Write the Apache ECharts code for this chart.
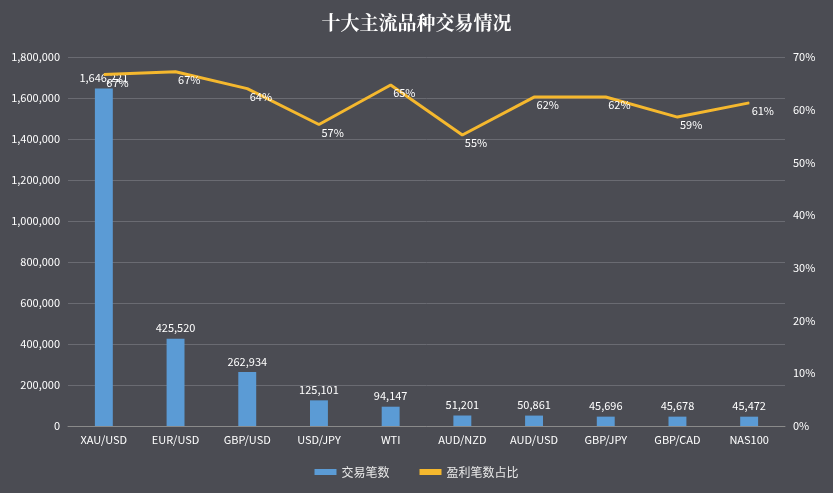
<!DOCTYPE html>
<html><head><meta charset="utf-8">
<script src="https://cdn.jsdelivr.net/npm/echarts@6/dist/echarts.min.js"></script>
<style>html,body{margin:0;padding:0;background:#4b4c53;}#c{width:833px;height:493px;}</style>
</head><body><div id="c"></div>
<script>
const categories = ['XAU/USD','EUR/USD','GBP/USD','USD/JPY','WTI','AUD/NZD','AUD/USD','GBP/JPY','GBP/CAD','NAS100'];
const tradeCounts = [1646221,425520,262934,125101,94147,51201,50861,45696,45678,45472];
const winRates = [66.7,67.2,64.0,57.2,64.7,55.2,62.4,62.4,58.6,61.3];
const leftTicks = {min:0,max:1800000,interval:200000};
const rightTicks = {min:0,max:70,interval:10};

const chart = echarts.init(document.getElementById('c'));
chart.setOption({
  backgroundColor:'#4b4c53',
  textStyle:{fontFamily:'"Noto Sans CJK SC", "Liberation Sans", sans-serif'},
  title:{text:'十大主流品种交易情况',left:'center',top:8,textStyle:{color:'#ffffff',fontSize:19,fontWeight:'bold',fontFamily:'"Noto Serif CJK SC","Noto Sans CJK SC",serif'}},
  grid:{left:68,right:48,top:57,bottom:67},
  legend:{bottom:10,itemGap:30,textStyle:{color:'#e8e8e8',fontSize:12},
    data:[{name:'交易笔数',icon:'rect'},{name:'盈利笔数占比',icon:'rect'}],itemWidth:22,itemHeight:6},
  xAxis:{type:'category',data:categories,axisTick:{show:false},
    axisLine:{lineStyle:{color:'#8a8a8a'}},axisLabel:{color:'#ffffff',fontSize:11,margin:8}},
  yAxis:[
    {type:'value',...leftTicks,axisLine:{show:false},axisTick:{show:false},
     axisLabel:{color:'#ffffff',fontSize:11,formatter:v=>v.toLocaleString('en-US')},
     splitLine:{lineStyle:{color:'#6a6b72'}}},
    {type:'value',...rightTicks,axisLine:{show:false},axisTick:{show:false},
     axisLabel:{color:'#ffffff',fontSize:11,formatter:'{value}%'},splitLine:{show:false}}
  ],
  series:[
    {name:'交易笔数',type:'bar',data:tradeCounts,barWidth:'25%',itemStyle:{color:'#5b9bd5'},
     label:{show:true,position:'top',color:'#ffffff',fontSize:11,formatter:p=>p.value.toLocaleString('en-US')}},
    {name:'盈利笔数占比',type:'line',yAxisIndex:1,data:winRates,symbol:'circle',symbolSize:1,showSymbol:true,
     lineStyle:{color:'#f5b82e',width:3},itemStyle:{color:'#f5b82e'},
     label:{show:true,position:'right',distance:2,offset:[0,8],color:'#ffffff',fontSize:11,formatter:p=>Math.round(p.value)+'%'}}
  ]
});
</script></body></html>
